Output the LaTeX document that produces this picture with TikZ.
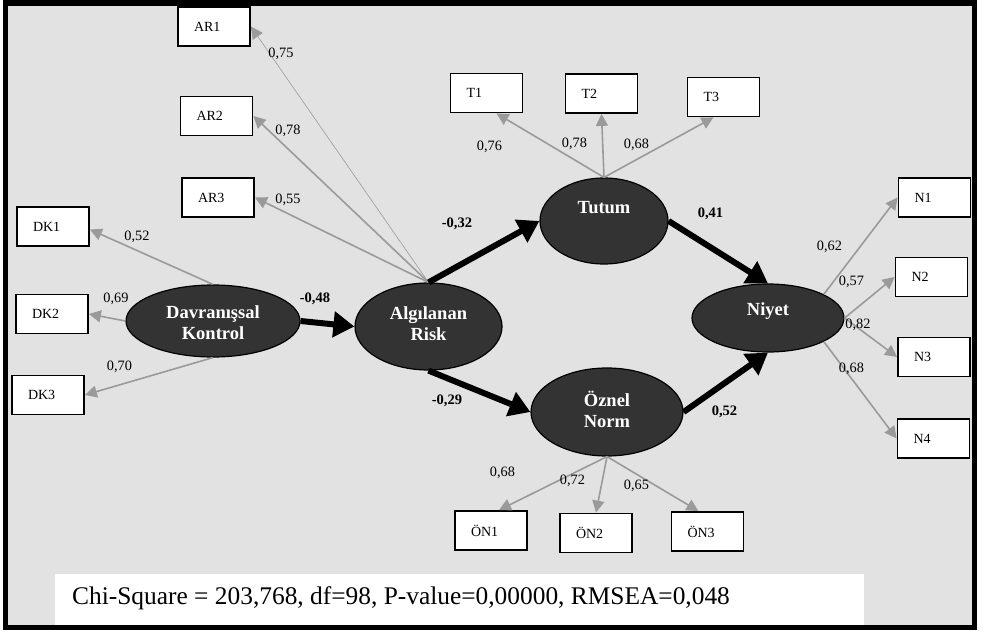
\documentclass[tikz,border=0pt]{standalone}
\usepackage{fontspec}
\setmainfont{Liberation Serif}
\usetikzlibrary{arrows.meta,shapes.geometric}
\definecolor{bggray}{HTML}{E2E2E2}
\definecolor{latfill}{HTML}{333333}
\definecolor{ldgray}{HTML}{9A9A9A}
\begin{document}
\begin{tikzpicture}[x=1pt,y=-1pt,
  obs/.style={draw=black, line width=1.8pt, fill=white, rectangle, minimum height=39pt,
    text width=40pt, inner xsep=16pt, inner ysep=0pt, align=left,
    font=\fontsize{14}{16}\selectfont},
  latent/.style={ellipse, draw=black, line width=1.2pt, fill=latfill, inner sep=0pt},
  lattext/.style={text=white, font=\fontsize{18.5}{21}\selectfont\bfseries, align=center, inner sep=0pt},
  load/.style={draw=ldgray, line width=1.6pt, -{Triangle[length=12pt,width=12pt]}},
  thinload/.style={draw=ldgray, line width=0.6pt, -{Triangle[length=12pt,width=12pt]}},
  strpath/.style={draw=black, line width=6pt, -{Triangle[length=21pt,width=25pt]}},
  lbl/.style={font=\fontsize{14.3}{16}\selectfont, inner sep=0pt},
  blbl/.style={font=\fontsize{14.5}{16}\selectfont\bfseries, inner sep=0pt}
]
% background and frame
\fill[white] (0,0) rectangle (983,631);
\useasboundingbox (0,0) rectangle (983,631);
\fill[bggray] (5,3) rectangle (975,628);
\draw[black, line width=5.5pt] (5.5,3) rectangle (974.5,627.5);
\fill[white] (55,574) rectangle (864,625);
\node[anchor=west, inner sep=0pt, font=\fontsize{25.4}{28}\selectfont] (fit) at (72,598)
  {Chi-Square = 203,768, df=98, P-value=0,00000, RMSEA=0,048};

% observed boxes
\node[obs] (ar1) at (214,26.5) {AR1};
\node[obs] (ar2) at (216.5,116) {AR2};
\node[obs] (ar3) at (218,197.5) {AR3};
\node[obs] (dk1) at (53,226.5) {DK1};
\node[obs] (dk2) at (52,314) {DK2};
\node[obs] (dk3) at (48,395) {DK3};
\node[obs] (t1) at (486.5,93) {T1};
\node[obs] (t2) at (601.5,93.5) {T2};
\node[obs] (t3) at (723.5,97) {T3};
\node[obs] (n1) at (934.5,197.5) {N1};
\node[obs] (n2) at (931.5,277) {N2};
\node[obs] (n3) at (934,357) {N3};
\node[obs] (n4) at (933.5,438.5) {N4};
\node[obs] (on1) at (491,530.5) {ÖN1};
\node[obs] (on2) at (596,533) {ÖN2};
\node[obs] (on3) at (707.5,531.5) {ÖN3};

% latent variables
\node[latent, minimum width=174pt, minimum height=72pt] (dk) at (213,321) {};
\node[lattext] (dkt) at (213,323) {Davranışsal\\Kontrol};
\node[latent, minimum width=147pt, minimum height=87pt] (ar) at (428.5,326.5) {};
\node[lattext] (art) at (428.5,324) {Algılanan\\Risk};
\node[latent, minimum width=128pt, minimum height=86pt] (tu) at (604,221) {};
\node[lattext] (tut) at (604,208) {Tutum};
\node[latent, minimum width=152pt, minimum height=68pt] (ni) at (768,318) {};
\node[lattext] (nit) at (768,311) {Niyet};
\node[latent, minimum width=152pt, minimum height=88pt] (on) at (607,412) {};
\node[lattext] (ont) at (607,409) {Öznel\\Norm};

% loadings
\draw[thinload] (ar.north) -- (ar1.east);
\draw[load] (ar.north) -- (ar2.east);
\draw[load] (ar.north) -- (ar3.east);
\draw[load] (dk.north) -- ([yshift=-3pt]dk1.east);
\draw[load] (dk.west) -- (dk2.east);
\draw[load] (dk.south) -- (dk3.east);
\draw[load] (tu.north) -- ([xshift=10pt]t1.south);
\draw[load] (tu.north) -- (t2.south);
\draw[load] (tu.north) -- ([xshift=-10pt]t3.south);
\draw[load] (ni.23) -- (n1.west);
\draw[load] (ni.east) -- (n2.west);
\draw[load] (ni.east) -- (n3.west);
\draw[load] (ni.-23) -- (n4.west);
\draw[load] (on.south) -- ([xshift=8pt]on1.north);
\draw[load] (on.south) -- (on2.north);
\draw[load] (on.south) -- ([xshift=-9pt]on3.north);

% structural paths
\draw[strpath] (dk.east) -- (ar.west);
\draw[strpath] (ar.north) -- (tu.west);
\draw[strpath] (ar.south) -- (on.west);
\draw[strpath] (tu.east) -- (ni.north);
\draw[strpath] (on.east) -- (ni.south);

% loading labels
\node[lbl] (l1) at (281,54) {0,75};
\node[lbl] (l2) at (288,131) {0,78};
\node[lbl] (l3) at (288,200) {0,55};
\node[lbl] (l4) at (137,237) {0,52};
\node[lbl] (l5) at (116,299) {0,69};
\node[lbl] (l6) at (119.5,367) {0,70};
\node[lbl] (l7) at (489.5,147) {0,76};
\node[lbl] (l8) at (574.5,144) {0,78};
\node[lbl] (l9) at (636.5,145) {0,68};
\node[lbl] (l10) at (829.5,247) {0,62};
\node[lbl] (l11) at (851.5,282) {0,57};
\node[lbl] (l12) at (858,325) {0,82};
\node[lbl] (l13) at (851.5,368.5) {0,68};
\node[lbl] (l14) at (502.5,472.5) {0,68};
\node[lbl] (l15) at (572.5,481) {0,72};
\node[lbl] (l16) at (636.5,485.5) {0,65};

% path coefficients
\node[blbl] (b1) at (457,224) {-0,32};
\node[blbl] (b2) at (315,299) {-0,48};
\node[blbl] (b3) at (447,401) {-0,29};
\node[blbl] (b4) at (710.5,214) {0,41};
\node[blbl] (b5) at (724.5,411.5) {0,52};
\end{tikzpicture}
\end{document}
